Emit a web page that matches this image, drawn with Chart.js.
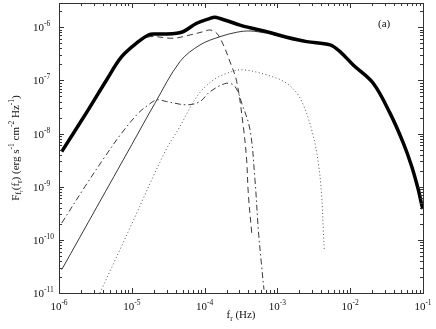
<!DOCTYPE html>
<html>
<head>
<meta charset="utf-8">
<script src="https://cdn.jsdelivr.net/npm/chart.js@4/dist/chart.umd.min.js"></script>
<style>
  html, body { margin: 0; padding: 0; background: #fff; }
  canvas { display: block; }
</style>
</head>
<body>
<canvas id="myChart" width="436" height="329"></canvas>
<script>
// total spectrum (thick line)
const freqTotal = [1.09e-6, 2.52e-6, 4.5e-6, 7.26e-6, 1.23e-5, 1.69e-5, 2.08e-5, 2.86e-5, 4.14e-5, 5.09e-5, 7.8e-5, 1.19e-4, 1.38e-4, 1.63e-4, 2.23e-4, 3.06e-4, 4.21e-4, 7.13e-4, 1.34e-3, 2.53e-3, 5.28e-3, 7.24e-3, 1.1e-2, 2.07e-2, 3.52e-2, 5.37e-2, 7.0e-2, 8.63e-2, 9.6e-2, 1e-1]
const fluxTotal = [4.57e-9, 2.79e-8, 1.02e-7, 2.8e-7, 5.36e-7, 7.16e-7, 7.48e-7, 7.48e-7, 7.71e-7, 8.26e-7, 1.19e-6, 1.47e-6, 1.54e-6, 1.46e-6, 1.27e-6, 1.1e-6, 9.8e-7, 8.26e-7, 6.49e-7, 5.36e-7, 4.65e-7, 3.48e-7, 1.95e-7, 8.85e-8, 2.42e-8, 6.6e-9, 2.4e-9, 8.75e-10, 4.57e-10, 3.8e-10]

// thin solid component
const freqSolid = [1.09e-6, 1e-5, 2.08e-5, 4.59e-5, 8.65e-5, 1.63e-4, 2.76e-4, 4.21e-4, 7.13e-4, 8.8e-4, 2.04e-3, 2.53e-3, 5.28e-3, 7.24e-3, 1.1e-2, 2.07e-2, 3.52e-2, 5.37e-2, 7.0e-2, 8.63e-2, 9.6e-2, 1e-1]
const fluxSolid = [2.75e-11, 6.2e-9, 3.72e-8, 2.26e-7, 4.65e-7, 6.65e-7, 8.05e-7, 8.51e-7, 7.71e-7, 7.16e-7, 5.6e-7, 5.25e-7, 4.6e-7, 3.45e-7, 1.93e-7, 8.8e-8, 2.4e-8, 6.6e-9, 2.4e-9, 8.7e-10, 4.55e-10, 3.8e-10]

// dashed component
const freqDashed = [1.23e-5, 1.78e-5, 3.72e-5, 6.31e-5, 9.6e-5, 1.19e-4, 1.47e-4, 1.81e-4, 2.23e-4, 2.76e-4, 3.4e-4, 3.78e-4, 3.98e-4, 4.44e-4]
const fluxDashed = [5.36e-7, 6.65e-7, 6.21e-7, 7.16e-7, 8.26e-7, 8.89e-7, 7.71e-7, 4.65e-7, 2.25e-7, 9.55e-8, 1.36e-8, 3.2e-9, 7.6e-10, 1.34e-10]

// dash-dot component
const freqDashDot = [1.09e-6, 2.28e-6, 4.29e-6, 7.26e-6, 1.23e-5, 1.69e-5, 2.2e-5, 3.01e-5, 5.68e-5, 8.65e-5, 1.19e-4, 2.01e-4, 2.62e-4, 3.24e-4, 4.21e-4, 4.92e-4, 5.47e-4, 6.08e-4, 6.55e-4]
const fluxDashDot = [2.07e-10, 1.01e-9, 3.7e-9, 1.02e-8, 2.42e-8, 3.46e-8, 4.3e-8, 4.0e-8, 3.47e-8, 4.0e-8, 6.15e-8, 8.85e-8, 7.64e-8, 3.72e-8, 1.17e-8, 1.35e-9, 1.55e-10, 3.16e-11, 1.15e-11]

// dotted component
const freqDotted = [3.65e-6, 1e-5, 2.86e-5, 4.59e-5, 7.8e-5, 1.32e-4, 2.35e-4, 3.4e-4, 7.13e-4, 1.34e-3, 2.04e-3, 2.96e-3, 3.65e-3, 4.06e-3, 4.27e-3, 4.4e-3]
const fluxDotted = [1e-11, 2.0e-10, 4.57e-9, 1.36e-8, 4.95e-8, 1.02e-7, 1.46e-7, 1.58e-7, 1.27e-7, 8.85e-8, 4.68e-8, 1.17e-8, 2.78e-9, 6.55e-10, 1.55e-10, 6.46e-11]

const xTickExps = [-6, -5, -4, -3, -2, -1]
const yTickExps = [-11, -10, -9, -8, -7, -6]
const xMin = 1e-6
const xMax = 1e-1
const yMin = 1e-11
const yMax = 2.86e-6

const SERIF = '"Liberation Serif", "DejaVu Serif", serif'

const toPoints = (xs, ys) => xs.map((x, i) => ({ x: x, y: ys[i] }))

const makeDataset = (xs, ys, width, color, dash) => {
  return {
    data: toPoints(xs, ys),
    borderColor: color,
    borderWidth: width,
    borderDash: dash,
    pointRadius: 0,
    fill: false,
    tension: 0.35
  }
}

// draws a run of text pieces [text, size, dy] starting at x
const drawRich = (ctx, parts, x, y, align) => {
  let total = 0
  for (const p of parts) {
    ctx.font = p[1] + 'px ' + SERIF
    total += ctx.measureText(p[0]).width
  }
  let cx = align === 'center' ? x - total / 2 : x
  for (const p of parts) {
    ctx.font = p[1] + 'px ' + SERIF
    ctx.fillText(p[0], cx, y + p[2])
    cx += ctx.measureText(p[0]).width
  }
}

const framePlugin = {
  id: 'frame',
  afterDatasetsDraw(chart) {
    const { ctx, chartArea: a, scales } = chart
    const xs = scales.x
    const ys = scales.y
    ctx.save()
    ctx.strokeStyle = '#333'
    ctx.lineWidth = 1
    ctx.strokeRect(Math.round(a.left) + 0.5, Math.round(a.top) + 0.5, Math.round(a.right - a.left), Math.round(a.bottom - a.top))

    ctx.beginPath()
    for (let e = -6; e <= -1; e++) {
      for (let m = 1; m < 10; m++) {
        const v = m * Math.pow(10, e)
        if (v > xMax * 1.0001) break
        const px = Math.round(xs.getPixelForValue(v)) + 0.5
        const len = m === 1 ? 5 : 3
        ctx.moveTo(px, a.bottom); ctx.lineTo(px, a.bottom - len)
        ctx.moveTo(px, a.top); ctx.lineTo(px, a.top + len)
      }
    }
    for (let e = -11; e <= -6; e++) {
      for (let m = 1; m < 10; m++) {
        const v = m * Math.pow(10, e)
        if (v > yMax) break
        const py = Math.round(ys.getPixelForValue(v)) + 0.5
        const len = m === 1 ? 5 : 3
        ctx.moveTo(a.left, py); ctx.lineTo(a.left + len, py)
        ctx.moveTo(a.right, py); ctx.lineTo(a.right - len, py)
      }
    }
    ctx.stroke()

    ctx.fillStyle = '#111'
    ctx.textBaseline = 'alphabetic'
    ctx.textAlign = 'left'
    for (const e of xTickExps) {
      const px = xs.getPixelForValue(Math.pow(10, e))
      drawRich(ctx, [['10', 11, 0], ['-' + Math.abs(e), 7.5, -5]], px, 310, 'center')
    }
    for (const e of yTickExps) {
      const py = ys.getPixelForValue(Math.pow(10, e))
      drawRich(ctx, [['10', 11, 0], ['-' + Math.abs(e), 7.5, -5]], 33, py + 4, 'left')
    }

    // x axis title
    drawRich(ctx, [['f', 11, 0], ['r', 7.5, 3], [' (Hz)', 11, 0]], 241, 318, 'center')

    // y axis title
    ctx.save()
    ctx.translate(19, (a.top + a.bottom) / 2)
    ctx.rotate(-Math.PI / 2)
    drawRich(ctx, [
      ['F', 11, 0], ['f', 7.5, 2], ['r', 5.5, 4], ['(f', 11, 0], ['r', 7.5, 3],
      [') (erg s', 11, 0], ['-1', 7.5, -5], [' cm', 11, 0], ['-2', 7.5, -5],
      [' Hz', 11, 0], ['-1', 7.5, -5], [')', 11, 0]
    ], 0, 0, 'center')
    ctx.restore()

    ctx.font = '11px ' + SERIF
    ctx.fillText('(a)', 378, 27)
    ctx.restore()
  }
}

const graphicSetup = () => {
  const ctx = document.getElementById('myChart')
  new Chart(ctx, {
    type: 'line',
    data: {
      datasets: [
        makeDataset(freqTotal, fluxTotal, 3.5, '#000', []),
        makeDataset(freqSolid, fluxSolid, 0.9, '#222', []),
        makeDataset(freqDashed, fluxDashed, 0.9, '#222', [6, 4]),
        makeDataset(freqDashDot, fluxDashDot, 0.9, '#222', [6, 3, 1.5, 3]),
        makeDataset(freqDotted, fluxDotted, 0.9, '#444', [1, 2.5])
      ]
    },
    options: {
      responsive: false,
      animation: false,
      devicePixelRatio: 1,
      layout: { padding: { left: 59, right: 13, top: 3, bottom: 36 } },
      scales: {
        x: { type: 'logarithmic', min: xMin, max: xMax, display: false },
        y: { type: 'logarithmic', min: yMin, max: yMax, display: false }
      },
      plugins: {
        legend: { display: false },
        tooltip: { enabled: false }
      }
    },
    plugins: [framePlugin]
  })
}

graphicSetup()
</script>
</body>
</html>
